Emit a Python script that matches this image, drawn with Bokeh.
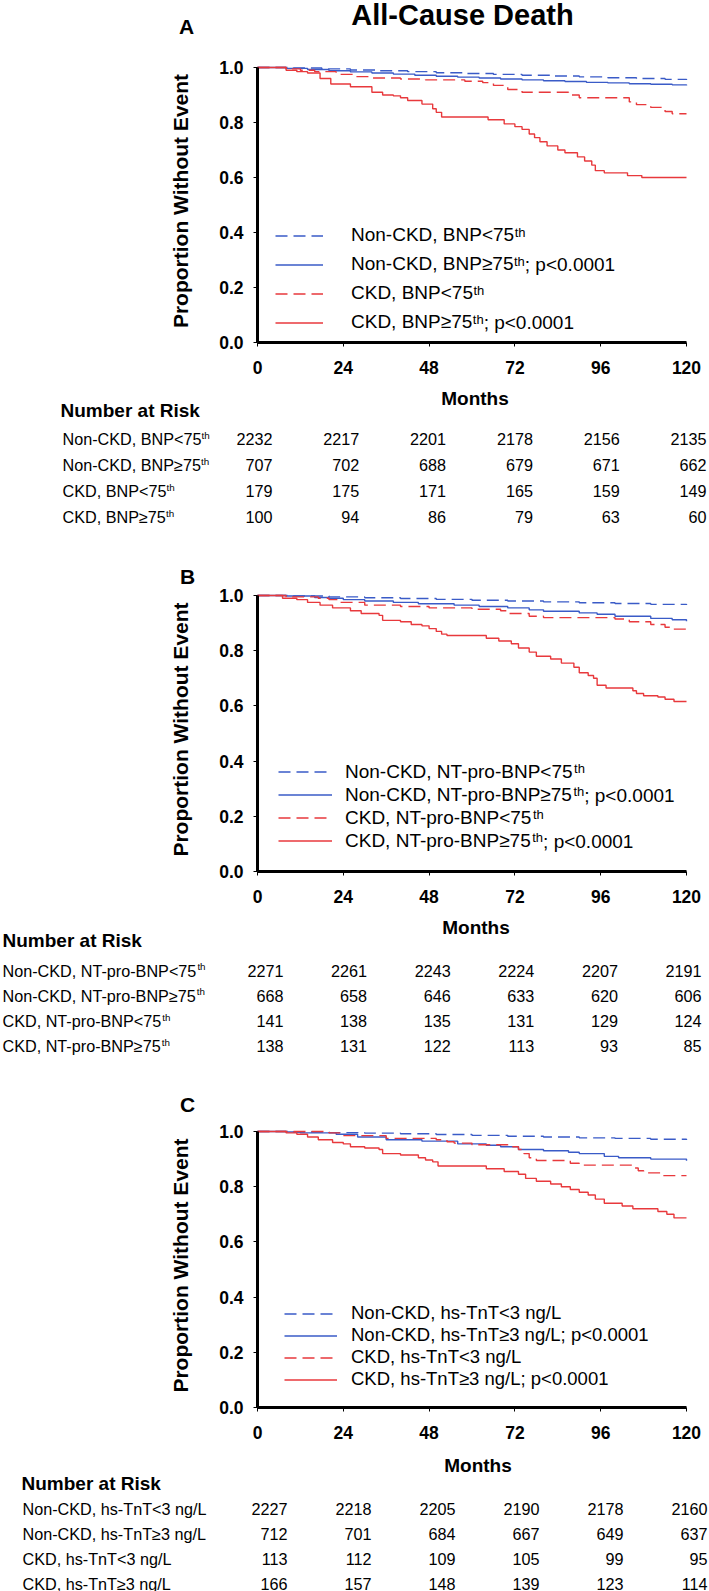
import math
from bokeh.plotting import figure
from bokeh.models import Range1d, FixedTicker, PrintfTickFormatter, Label, Legend, LegendItem
from bokeh.layouts import column
from bokeh.embed import file_html
from bokeh.resources import INLINE

# ---------------- data ----------------
month_ticks = [0, 24, 48, 72, 96, 120]
y_ticks = [0.0, 0.2, 0.4, 0.6, 0.8, 1.0]

# Panel A (BNP)
A_nl_t = [0, 10, 18, 26, 34, 42, 50, 58, 66, 74, 82, 90, 98, 106, 114, 120]
A_nl_s = [1.0, 0.998, 0.995, 0.991, 0.988, 0.985, 0.981, 0.978, 0.975, 0.972, 0.969, 0.966, 0.963, 0.960, 0.957, 0.955]
A_nh_t = [0, 8, 14, 20, 26, 32, 38, 44, 50, 56, 62, 68, 74, 80, 86, 92, 98, 104, 110, 116, 120]
A_nh_s = [1.0, 0.997, 0.993, 0.988, 0.984, 0.980, 0.976, 0.972, 0.968, 0.965, 0.962, 0.958, 0.955, 0.952, 0.949, 0.946, 0.944, 0.941, 0.939, 0.937, 0.935]
A_cl_t = [0, 8, 12, 16, 22, 27, 32, 40, 47, 58, 63, 66, 70, 74, 87, 90, 104, 106, 110, 114, 116, 120]
A_cl_s = [1.0, 0.995, 0.99, 0.985, 0.975, 0.967, 0.962, 0.958, 0.955, 0.95, 0.945, 0.935, 0.92, 0.91, 0.90, 0.89, 0.875, 0.865, 0.855, 0.84, 0.832, 0.832]
A_ch_t = [0, 8, 11, 14, 17.5, 20.5, 26, 32, 35, 38, 40, 42, 46, 49, 50, 51.5, 64.5, 69, 72, 74, 76, 77.5, 79, 81, 84, 86, 89.5, 91.5, 93.5, 94.5, 97, 103.5, 107.5, 120]
A_ch_s = [1.0, 0.99, 0.985, 0.98, 0.96, 0.94, 0.93, 0.91, 0.90, 0.897, 0.89, 0.88, 0.867, 0.85, 0.837, 0.82, 0.81, 0.795, 0.785, 0.775, 0.758, 0.745, 0.73, 0.715, 0.70, 0.69, 0.675, 0.66, 0.645, 0.625, 0.617, 0.607, 0.60, 0.60]

# Panel B (NT-pro-BNP)
B_nl_t = [0, 10, 20, 30, 40, 50, 60, 70, 80, 90, 100, 110, 120]
B_nl_s = [1.0, 0.998, 0.995, 0.992, 0.989, 0.986, 0.983, 0.980, 0.977, 0.974, 0.971, 0.968, 0.966]
B_nh_t = [0, 8, 16, 20, 24, 30, 38, 45, 55, 62, 70, 76, 80, 90, 95, 100, 110, 116, 120]
B_nh_s = [1.0, 0.998, 0.993, 0.99, 0.985, 0.98, 0.975, 0.97, 0.965, 0.96, 0.955, 0.948, 0.943, 0.937, 0.932, 0.925, 0.917, 0.912, 0.907]
B_cl_t = [0, 8, 17, 20, 23, 30, 40, 48, 60, 68, 70, 76, 80, 100, 104, 110, 114, 116, 120]
B_cl_s = [1.0, 0.995, 0.99, 0.985, 0.975, 0.965, 0.96, 0.955, 0.95, 0.945, 0.935, 0.925, 0.92, 0.915, 0.905, 0.895, 0.885, 0.878, 0.878]
B_ch_t = [0, 7, 11, 14, 17.5, 21, 26, 29, 34, 35, 40, 43, 46, 48, 50, 51.5, 53, 64, 67.5, 71, 73, 76, 78, 82, 85, 88.5, 90, 92.5, 94, 95, 97.5, 105, 106, 108, 112, 114, 116.5, 120]
B_ch_s = [1.0, 0.99, 0.985, 0.975, 0.965, 0.955, 0.945, 0.935, 0.928, 0.91, 0.905, 0.895, 0.89, 0.88, 0.87, 0.86, 0.855, 0.845, 0.835, 0.825, 0.81, 0.795, 0.78, 0.77, 0.755, 0.74, 0.72, 0.71, 0.70, 0.675, 0.665, 0.655, 0.645, 0.637, 0.632, 0.624, 0.616, 0.616]

# Panel C (hs-TnT)
C_nl_t = [0, 10, 20, 30, 40, 50, 60, 70, 80, 90, 100, 110, 120]
C_nl_s = [1.0, 0.998, 0.996, 0.994, 0.992, 0.989, 0.986, 0.983, 0.980, 0.977, 0.975, 0.972, 0.969]
C_nh_t = [0, 8, 12, 22, 28, 36, 46, 56, 64, 68, 73, 80, 87, 90, 97, 101, 110, 120]
C_nh_s = [1.0, 0.998, 0.995, 0.99, 0.98, 0.97, 0.965, 0.955, 0.95, 0.945, 0.935, 0.93, 0.925, 0.92, 0.91, 0.905, 0.90, 0.894]
C_cl_t = [0, 20, 24, 36, 50, 53, 55, 60, 70, 73, 74.5, 76, 78, 87.5, 90, 105, 106.5, 108, 113, 120]
C_cl_s = [1.0, 0.995, 0.985, 0.975, 0.97, 0.963, 0.958, 0.952, 0.945, 0.935, 0.92, 0.905, 0.895, 0.885, 0.878, 0.868, 0.858, 0.85, 0.84, 0.84]
C_ch_t = [0, 8, 11, 14, 17, 21, 24, 26, 30, 34, 35, 40, 45, 47, 49, 50.5, 64, 69, 73, 75, 78, 82, 85, 87.5, 90, 92.5, 94.5, 97, 102, 105, 112, 114.5, 116.5, 120]
C_ch_s = [1.0, 0.995, 0.99, 0.98, 0.97, 0.96, 0.955, 0.945, 0.94, 0.935, 0.92, 0.915, 0.905, 0.897, 0.89, 0.875, 0.865, 0.855, 0.845, 0.83, 0.82, 0.81, 0.80, 0.79, 0.78, 0.77, 0.755, 0.74, 0.73, 0.72, 0.71, 0.70, 0.687, 0.687]

# Legend / risk-table labels
A_labels = ["Non-CKD, BNP<75", "Non-CKD, BNP\u226575", "CKD, BNP<75", "CKD, BNP\u226575"]
B_labels = ["Non-CKD, NT-pro-BNP<75", "Non-CKD, NT-pro-BNP\u226575", "CKD, NT-pro-BNP<75", "CKD, NT-pro-BNP\u226575"]
C_labels = ["Non-CKD, hs-TnT<3 ng/L", "Non-CKD, hs-TnT\u22653 ng/L", "CKD, hs-TnT<3 ng/L", "CKD, hs-TnT\u22653 ng/L"]
p_text = "; p<0.0001"

# Numbers at risk
A_risk = [[2232, 2217, 2201, 2178, 2156, 2135], [707, 702, 688, 679, 671, 662],
          [179, 175, 171, 165, 159, 149], [100, 94, 86, 79, 63, 60]]
B_risk = [[2271, 2261, 2243, 2224, 2207, 2191], [668, 658, 646, 633, 620, 606],
          [141, 138, 135, 131, 129, 124], [138, 131, 122, 113, 93, 85]]
C_risk = [[2227, 2218, 2205, 2190, 2178, 2160], [712, 701, 684, 667, 649, 637],
          [113, 112, 109, 105, 99, 95], [166, 157, 148, 139, 123, 114]]

# ---------------- style ----------------
FONT = "Liberation Sans"
BLUE = "#3a5bc7"
RED = "#e8393c"
DASH = "12 6"
LW = 1.4

# Arial / Liberation Sans advance widths (1/1000 em)
AW = {' ': 278, ',': 278, '-': 333, '.': 278, '/': 278, ';': 278, '<': 584, '>': 584, '\u2265': 549,
      'A': 667, 'B': 667, 'C': 722, 'D': 722, 'E': 667, 'K': 667, 'L': 556, 'N': 722, 'P': 667,
      'R': 722, 'T': 611, 'a': 556, 'b': 556, 'c': 500, 'd': 556, 'e': 556, 'g': 556, 'h': 556,
      'i': 222, 'k': 500, 'l': 222, 'm': 833, 'n': 556, 'o': 556, 'p': 556, 'r': 333, 's': 500,
      't': 278, 'u': 556}


def tw(s, fs):
    return sum(AW.get(c, 556) for c in s) * fs / 1000.0


PAGE_W = 709
FL, FR = 257, 686   # x = 0 and x = 120 months on the page


def add_label(p, x, y, text, fs, bold=False, align="left", baseline="middle", **kw):
    p.add_layout(Label(x=x, y=y, text=text, text_font=FONT, text_font_size=f"{fs}px",
                       text_font_style="bold" if bold else "normal", text_align=align,
                       text_baseline=baseline, text_color="black", **kw))


def make_panel(top, bottom, FT, FB, curves, labels, sup, risk, lg, tb, letter, letter_pos,
               title=None, title_pos=None):
    H = FB - FT
    # the frame covers the whole figure; axes sit at fixed data locations inside it
    p = figure(width=PAGE_W, height=bottom - top,
               x_range=Range1d(start=-FL / (FR - FL) * 120.0, end=(PAGE_W - FL) / (FR - FL) * 120.0),
               y_range=Range1d(start=-(bottom - FB) / H, end=1 + (FT - top) / H),
               output_backend="svg", toolbar_location=None, min_border=0)
    p.min_border_left = p.min_border_right = p.min_border_top = p.min_border_bottom = 0
    p.outline_line_color = None
    p.xgrid.visible = False
    p.ygrid.visible = False
    p.background_fill_color = "white"
    p.border_fill_color = "white"

    def dx(px):
        return (px - FL) / (FR - FL) * 120.0

    def dy(py):
        return (FB - py) / H

    # axes
    p.xaxis.ticker = FixedTicker(ticks=month_ticks)
    p.yaxis.ticker = FixedTicker(ticks=y_ticks)
    p.yaxis.formatter = PrintfTickFormatter(format="%.1f")
    p.xaxis.fixed_location = 0
    p.yaxis.fixed_location = 0
    p.xaxis.bounds = (0, 120)
    p.yaxis.bounds = (0, 1)
    for ax in (p.xaxis[0], p.yaxis[0]):
        ax.axis_line_width = 3
        ax.axis_line_color = "black"
        ax.major_tick_in = 0
        ax.major_tick_out = 4
        ax.major_tick_line_color = "black"
        ax.major_tick_line_width = 1
        ax.minor_tick_line_color = None
        ax.major_label_text_font = FONT
        ax.major_label_text_font_size = "17.5px"
        ax.major_label_text_font_style = "bold"
        ax.major_label_text_color = "black"
    p.yaxis.major_label_standoff = 10
    p.xaxis.major_label_standoff = 14

    # axis titles
    add_label(p, dx(180), dy((FT + FB) / 2.0 - 4), "Proportion Without Event", 21, bold=True,
              align="center", angle=math.pi / 2)
    add_label(p, 60, dy(tb["months_y"]), "Months", 19, bold=True, align="center",
              x_offset=tb["months_dx"])

    # curves
    styles = [(BLUE, DASH), (BLUE, "solid"), (RED, DASH), (RED, "solid")]
    rends = []
    for (t, s), (col, dash) in zip(curves, styles):
        rends.append(p.step(t, s, mode="after", line_color=col, line_width=LW, line_dash=dash))

    # legend
    rh = lg["row_h"]
    rows = [lg["y_first"] + rh * i for i in range(4)]
    leg_bottom = rows[0] - rh / 2.0 + 4 * rh
    gx = lg["glyph_x"]
    standoff = lg["text_x"] - (gx + lg["glyph_w"])
    fs = lg["fs"]
    main_labels = [l + p_text if (not sup and i in (1, 3)) else l for i, l in enumerate(labels)]
    legend = Legend(items=[LegendItem(label=ml, renderers=[r]) for ml, r in zip(main_labels, rends)],
                    location=(gx, bottom - leg_bottom), orientation="vertical", padding=0, spacing=0,
                    margin=0, glyph_width=lg["glyph_w"], glyph_height=rh, label_height=rh,
                    label_standoff=standoff, label_text_font=FONT, label_text_font_size=f"{fs}px",
                    label_text_color="black", border_line_color=None, background_fill_alpha=0)
    p.add_layout(legend)
    if sup:
        for i, l in enumerate(labels):
            yc = rows[i]
            sx = lg["text_x"] + tw(l, fs)
            add_label(p, dx(sx), dy(yc - 3.5), "th", 13, baseline="alphabetic")
            if i in (1, 3):
                add_label(p, dx(sx + tw("th", 13)), dy(yc), p_text, fs)

    # panel letter / title
    add_label(p, dx(letter_pos[0]), dy(letter_pos[1]), letter, 21, bold=True, align="center")
    if title:
        add_label(p, dx(title_pos[0]), dy(title_pos[1]), title, 29, bold=True, align="center")

    # risk table: a column scale (month -> right edge of its number) and a row scale
    a, b = tb["col0"], tb["colstep"]
    y0, sp = tb["row0"], tb["rowstep"]
    p.extra_x_ranges = {"tab": Range1d(start=(0 - a) / b * 24.0, end=(PAGE_W - a) / b * 24.0)}
    p.extra_y_ranges = {"rows": Range1d(start=1 + (bottom - y0) / sp, end=1 + (top - y0) / sp)}

    def cx(px):
        return (px - a) / b * 24.0

    def ry(py):
        return 1 + (py - y0) / sp

    tk = dict(x_range_name="tab", y_range_name="rows")
    add_label(p, cx(tb["nar_x"]), ry(tb["nar_y"]), "Number at Risk", 19, bold=True, **tk)
    tfs = 16.2
    for i, l in enumerate(labels):
        add_label(p, cx(tb["lab_x"]), i + 1, l, tfs, **tk)
        if sup:
            add_label(p, cx(tb["lab_x"] + tw(l, tfs)), i + 1 - 4.0 / sp, "th", 9.8,
                      baseline="alphabetic", **tk)
        for m, n in zip(month_ticks, risk[i]):
            add_label(p, m, i + 1, str(n), tfs, align="right", **tk)
    return p


pA = make_panel(0, 545, 67, 342,
                [(A_nl_t, A_nl_s), (A_nh_t, A_nh_s), (A_cl_t, A_cl_s), (A_ch_t, A_ch_s)],
                A_labels, True, A_risk,
                dict(y_first=235, row_h=29, glyph_x=275, glyph_w=48, text_x=351, fs=19),
                dict(col0=272, colstep=86.8, row0=438.5, rowstep=26.1, nar_x=60, nar_y=410,
                     lab_x=62, months_y=398, months_dx=3),
                "A", (186, 26), "All-Cause Death", (462, 14))
pB = make_panel(545, 1075, 595, 871,
                [(B_nl_t, B_nl_s), (B_nh_t, B_nh_s), (B_cl_t, B_cl_s), (B_ch_t, B_ch_s)],
                B_labels, True, B_risk,
                dict(y_first=771.7, row_h=23, glyph_x=278, glyph_w=54, text_x=345, fs=19),
                dict(col0=283, colstep=83.6, row0=970, rowstep=25.3, nar_x=2, nar_y=940,
                     lab_x=2, months_y=927, months_dx=4),
                "B", (187, 576))
pC = make_panel(1075, 1591, 1131, 1407,
                [(C_nl_t, C_nl_s), (C_nh_t, C_nh_s), (C_cl_t, C_cl_s), (C_ch_t, C_ch_s)],
                C_labels, False, C_risk,
                dict(y_first=1316.7, row_h=21, glyph_x=284, glyph_w=53, text_x=351, fs=18.5),
                dict(col0=287, colstep=84.0, row0=1508, rowstep=25, nar_x=21, nar_y=1483,
                     lab_x=22, months_y=1465, months_dx=6),
                "C", (187, 1104))

layout = column(pA, pB, pC, spacing=0)
open("out.html", "w").write(file_html(layout, INLINE, "All-Cause Death"))
